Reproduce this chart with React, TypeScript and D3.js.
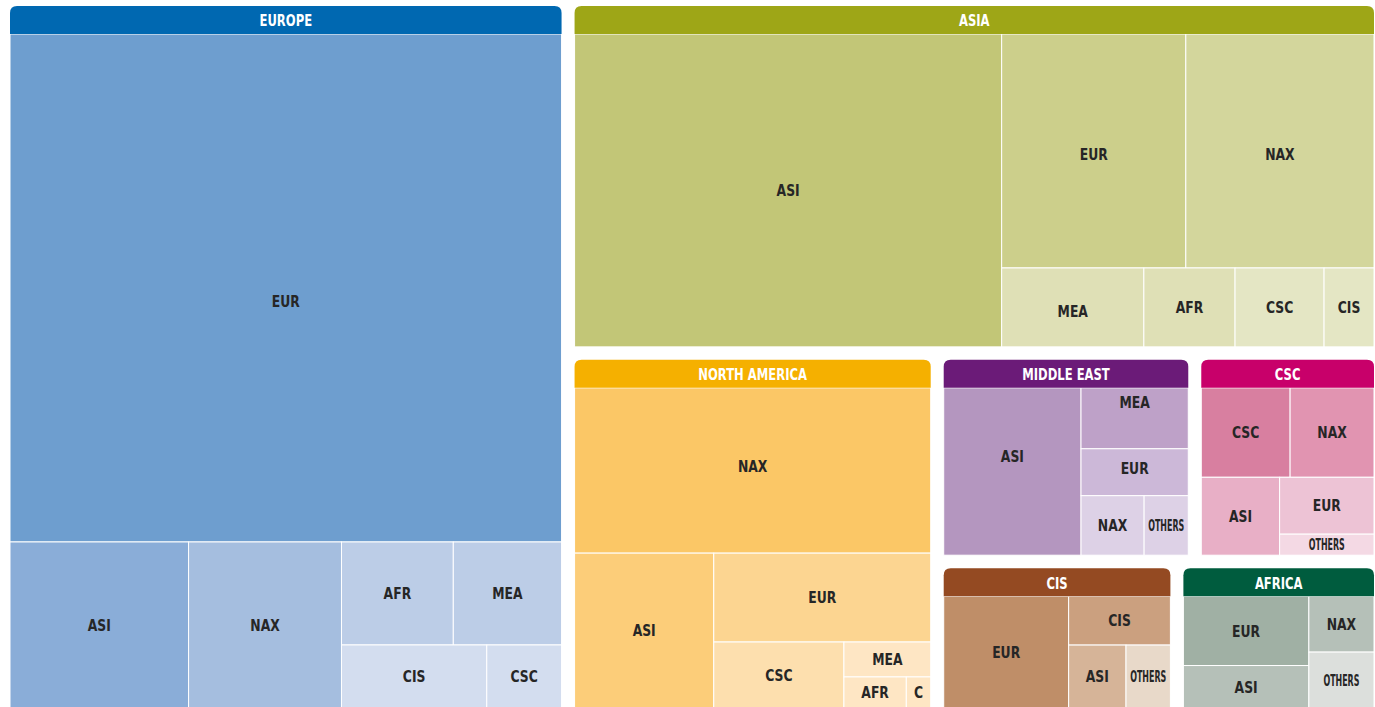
import React, { useMemo } from "react";
import * as d3 from "d3";

const width = 1375;
const height = 707;
const margin = { top: 6, left: 10 };
const innerWidth = 1364;
const innerHeight = 702;
const headerHeight = 28;
const regionGap = 13;

// exporting regions and how their blocks are arranged ("h" = side by side, "v" = stacked)
const regions = ["EUROPE", "ASIA", "NORTH AMERICA", "MIDDLE EAST", "CSC", "CIS", "AFRICA"];
const regionLayout: any = ["h", "EUROPE", ["v", "ASIA", ["h", "NORTH AMERICA", ["v", ["h", "MIDDLE EAST", "CSC"], ["h", "CIS", "AFRICA"]]]]];

// destinations and share of world merchandise trade (%) for each exporter
const europeDest = ["EUR", "ASI", "NAX", "AFR", "MEA", "CIS", "CSC"];
const europeValues = [30.9, 3.27, 2.8, 1.27, 1.23, 1.01, 0.52];
const europeLayout = ["v", "EUR", ["h", "ASI", "NAX", ["v", ["h", "AFR", "MEA"], ["h", "CIS", "CSC"]]]];

const asiaDest = ["ASI", "EUR", "NAX", "MEA", "AFR", "CSC", "CIS"];
const asiaValues = [15.6, 5.03, 5.14, 1.31, 0.84, 0.82, 0.46];
const asiaLayout = ["h", "ASI", ["v", ["h", "EUR", "NAX"], ["h", "MEA", "AFR", "CSC", "CIS"]]];

const northAmericaDest = ["NAX", "ASI", "EUR", "CSC", "MEA", "AFR", "CIS"];
const northAmericaValues = [6.99, 2.56, 2.29, 1.02, 0.36, 0.23, 0.09];
const northAmericaLayout = ["v", "NAX", ["h", "ASI", ["v", "EUR", ["h", "CSC", ["v", "MEA", ["h", "AFR", "CIS"]]]]]];

const middleEastDest = ["ASI", "MEA", "EUR", "NAX", "OTHERS"];
const middleEastValues = [3.06, 0.87, 0.67, 0.5, 0.35];
const middleEastLayout = ["h", "ASI", ["v", "MEA", "EUR", ["h", "NAX", "OTHERS"]]];

const cscDest = ["CSC", "NAX", "ASI", "EUR", "OTHERS"];
const cscValues = [1.08, 1.02, 0.83, 0.73, 0.27];
const cscLayout = ["v", ["h", "CSC", "NAX"], ["h", "ASI", ["v", "EUR", "OTHERS"]]];

const cisDest = ["EUR", "CIS", "ASI", "OTHERS"];
const cisValues = [2.05, 0.73, 0.53, 0.41];
const cisLayout = ["h", "EUR", ["v", "CIS", ["h", "ASI", "OTHERS"]]];

const africaDest = ["EUR", "ASI", "NAX", "OTHERS"];
const africaValues = [1.29, 0.79, 0.54, 0.54];
const africaLayout = ["h", ["v", "EUR", "ASI"], ["v", "NAX", "OTHERS"]];

const regionData: Record<string, { dest: string[]; values: number[]; layout: any }> = {
  "EUROPE": { dest: europeDest, values: europeValues, layout: europeLayout },
  "ASIA": { dest: asiaDest, values: asiaValues, layout: asiaLayout },
  "NORTH AMERICA": { dest: northAmericaDest, values: northAmericaValues, layout: northAmericaLayout },
  "MIDDLE EAST": { dest: middleEastDest, values: middleEastValues, layout: middleEastLayout },
  "CSC": { dest: cscDest, values: cscValues, layout: cscLayout },
  "CIS": { dest: cisDest, values: cisValues, layout: cisLayout },
  "AFRICA": { dest: africaDest, values: africaValues, layout: africaLayout },
};

// header colour, then one shade per destination (same order as the *Dest arrays)
const colors: Record<string, { header: string; cells: string[] }> = {
  "EUROPE": { header: "#0068b1", cells: ["#6e9ecf", "#8aadd8", "#a5bedf", "#bccde7", "#bccde7", "#d3ddef", "#d3ddef"] },
  "ASIA": { header: "#9ea617", cells: ["#c2c677", "#cccf8b", "#d3d69c", "#dfe0b6", "#dfe0b6", "#e4e6c4", "#e4e6c4"] },
  "NORTH AMERICA": { header: "#f5b000", cells: ["#fbc766", "#fccd79", "#fcd591", "#fddfae", "#fee6c4", "#fee6c4", "#fee6c4"] },
  "MIDDLE EAST": { header: "#6b1b78", cells: ["#b496bf", "#bea1c8", "#ccb8d8", "#ddd1e6", "#ddd1e6"] },
  "CSC": { header: "#c8006a", cells: ["#d87fa0", "#e194b1", "#e8afc6", "#edc3d5", "#f4d9e4"] },
  "CIS": { header: "#944a22", cells: ["#bf8e68", "#cba07f", "#d6b498", "#e8d9c9"] },
  "AFRICA": { header: "#005c3e", cells: ["#a0b0a4", "#b5c0b8", "#b5c0b8", "#dcdfdc"] },
};

// a few labels sit off the cell centre in the original
const labelNudge: Record<string, number> = {
  "EUROPE/EUR": 13,
  "ASIA/EUR": 3,
  "ASIA/NAX": 3,
  "ASIA/MEA": 4,
  "NORTH AMERICA/NAX": -4,
  "MIDDLE EAST/ASI": -15,
  "MIDDLE EAST/MEA": -16,
  "MIDDLE EAST/EUR": -4,
};

const font = '"DejaVu Sans Condensed", "Liberation Sans Narrow", "Roboto Condensed", Roboto, sans-serif';
const squeeze = 0.86;

function build(spec: any, leaf: (name: string) => any, extra: any = {}): any {
  if (typeof spec === "string") return leaf(spec);
  const [dir, ...kids] = spec;
  return { dir, ...extra, children: kids.map((k: any) => build(k, leaf, extra)) };
}

function regionNode(region: string) {
  const { dest, values, layout } = regionData[region];
  const node = build(layout, name => ({ name, region, value: values[dest.indexOf(name)] }));
  return { ...node, region, isRegion: true };
}

const tile = (node: any, x0: number, y0: number, x1: number, y1: number) =>
  (node.data.dir === "h" ? d3.treemapDice : d3.treemapSlice)(node, x0, y0, x1, y1);

function headerPath(x0: number, y0: number, x1: number, h: number, r: number) {
  return `M${x0},${y0 + h}V${y0 + r}Q${x0},${y0} ${x0 + r},${y0}H${x1 - r}Q${x1},${y0} ${x1},${y0 + r}V${y0 + h}Z`;
}

export default function App() {
  const root = useMemo(() => {
    const data = build(regionLayout, regionNode, { gap: true });
    const h = d3.hierarchy<any>(data).sum(d => (d.children ? 0 : d.value || 0));
    return d3.treemap<any>()
      .size([innerWidth, innerHeight])
      .tile(tile as any)
      .paddingInner(n => (n.data.gap ? regionGap : 0))
      .paddingTop(n => (n.data.isRegion ? headerHeight : 0))(h);
  }, []);

  const regionNodes = root.descendants().filter(d => d.data.isRegion);
  const leaves = root.leaves();

  return (
    <svg width={width} height={height} style={{ position: "absolute", left: 0, top: 0, background: "#fff" }}>
      <g transform={`translate(${margin.left},${margin.top})`}>
        {leaves.map((d: any, i) => {
          const reg = d.data.region;
          const fill = colors[reg].cells[regionData[reg].dest.indexOf(d.data.name)];
          const w = d.x1 - d.x0;
          const label = w < 30 ? d.data.name.slice(0, 1) : d.data.name;
          const narrow = d.data.name === "OTHERS";
          const cy = (d.y0 + d.y1) / 2 + (labelNudge[`${reg}/${d.data.name}`] || 0);
          return (
            <g key={i}>
              <rect x={d.x0} y={d.y0} width={w} height={d.y1 - d.y0} fill={fill} stroke="#fff" strokeWidth={1} />
              <text
                transform={`translate(${(d.x0 + d.x1) / 2},${cy}) scale(${narrow ? 1 : squeeze},1)`}
                dy="0.36em"
                textAnchor="middle"
                fontFamily={font}
                fontWeight="bold"
                fontSize={narrow ? 16 : 16}
                fill="#262626"
                textLength={narrow ? 36 : undefined}
                lengthAdjust={narrow ? "spacingAndGlyphs" : undefined}
              >
                {label}
              </text>
            </g>
          );
        })}
        {regionNodes.map((d: any) => (
          <g key={d.data.region}>
            <path d={headerPath(d.x0, d.y0, d.x1, headerHeight, 7)} fill={colors[d.data.region].header} />
            <text
              transform={`translate(${(d.x0 + d.x1) / 2},${d.y0 + headerHeight / 2 + 1}) scale(${squeeze},1)`}
              dy="0.36em"
              textAnchor="middle"
              fontFamily={font}
              fontWeight="bold"
              fontSize={15}
              fill="#fff"
            >
              {d.data.region}
            </text>
          </g>
        ))}
      </g>
    </svg>
  );
}
